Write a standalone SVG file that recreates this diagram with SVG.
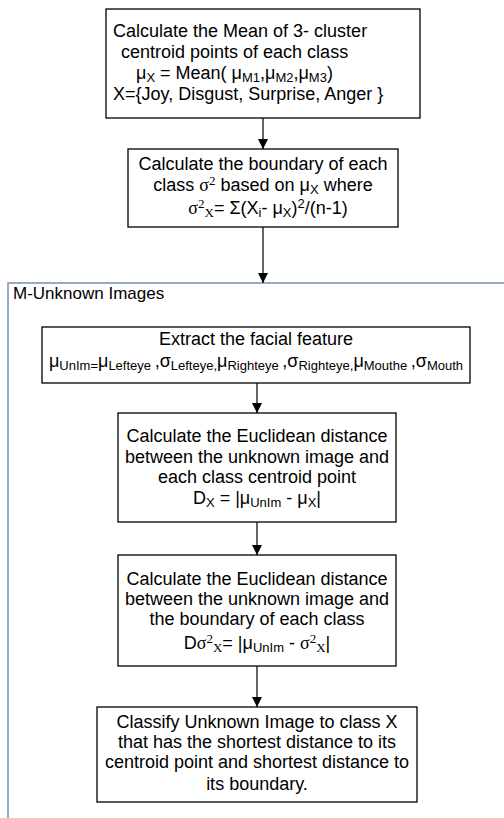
<svg xmlns="http://www.w3.org/2000/svg" width="504" height="818" viewBox="0 0 504 818">
  <defs>
    <marker id="arrow" markerWidth="10" markerHeight="11" refX="10" refY="5" orient="auto" markerUnits="userSpaceOnUse">
      <path d="M0,0 L10,5 L0,10 z" fill="#000"/>
    </marker>
  </defs>
  <style>
    text { font-family: "Liberation Sans", Arial, sans-serif; font-size: 18px; fill: #000; }
    .mid { text-anchor: middle; }
    .sub { font-size: 13px; }
    .sym { font-family: "Liberation Serif", "Times New Roman", serif; }
    .box { fill: #fff; stroke: #000; stroke-width: 1.3; }
    .frame { fill: none; stroke: #7f97b6; stroke-width: 1.6; }
    .link { stroke: #000; stroke-width: 1.2; fill: none; marker-end: url(#arrow); }
  </style>

  <rect width="504" height="818" fill="#fff"/>

  <!-- container for the per-image steps -->
  <g id="unknown-images">
    <rect class="frame" x="8" y="283" width="520" height="560"/>
    <text x="13" y="299" style="font-size:17px">M-Unknown Images</text>
  </g>

  <g id="connectors">
    <line class="link" x1="263" y1="118" x2="263" y2="149"/>
    <line class="link" x1="263" y1="227" x2="263" y2="283"/>
    <line class="link" x1="257" y1="383" x2="257" y2="413"/>
    <line class="link" x1="257" y1="522" x2="257" y2="555"/>
    <line class="link" x1="257" y1="666" x2="257" y2="707"/>
  </g>

  <g id="mean-centroid">
    <rect class="box" x="106" y="9" width="314" height="109"/>
    <text x="113" y="37">Calculate the Mean of  3- cluster</text>
    <text x="121" y="58">centroid points of each class</text>
    <text x="136" y="79">μ<tspan class="sub" dy="3">X</tspan><tspan dy="-3"> = Mean( μ</tspan><tspan class="sub" dy="3">M1</tspan><tspan dy="-3">,μ</tspan><tspan class="sub" dy="3">M2</tspan><tspan dy="-3">,μ</tspan><tspan class="sub" dy="3">M3</tspan><tspan dy="-3">)</tspan></text>
    <text x="113" y="100">X={Joy, Disgust, Surprise,  Anger }</text>
  </g>

  <g id="class-boundary">
    <rect class="box" x="128" y="149" width="270" height="78"/>
    <text class="mid" x="263" y="170">Calculate the boundary of each</text>
    <text class="mid" x="263" y="191">class <tspan class="sym">σ</tspan><tspan class="sym sub" dy="-6">2</tspan><tspan dy="6"> based on μ</tspan><tspan class="sub" dy="3">X</tspan><tspan dy="-3"> where</tspan></text>
    <text class="mid" x="268" y="214"><tspan class="sym">σ</tspan><tspan class="sym sub" dy="-6">2</tspan><tspan class="sym sub" dy="9">X</tspan><tspan dy="-3">= Σ(X</tspan><tspan class="sub" dy="3">i</tspan><tspan dy="-3">- μ</tspan><tspan class="sub" dy="3">X</tspan><tspan dy="-3">)</tspan><tspan class="sub" dy="-6">2</tspan><tspan dy="6">/(n-1)</tspan></text>
  </g>

  <g id="extract-feature">
    <rect class="box" x="42" y="327" width="428" height="56"/>
    <text class="mid" x="256" y="345">Extract the facial feature</text>
    <text class="mid" x="256" y="367">μ<tspan class="sub" dy="3">UnIm=</tspan><tspan dy="-3">μ</tspan><tspan class="sub" dy="3">Lefteye </tspan><tspan dy="-3">,σ</tspan><tspan class="sub" dy="3">Lefteye,</tspan><tspan dy="-3">μ</tspan><tspan class="sub" dy="3">Righteye </tspan><tspan dy="-3">,σ</tspan><tspan class="sub" dy="3">Righteye,</tspan><tspan dy="-3">μ</tspan><tspan class="sub" dy="3">Mouthe </tspan><tspan dy="-3">,σ</tspan><tspan class="sub" dy="3">Mouth</tspan></text>
  </g>

  <g id="centroid-distance">
    <rect class="box" x="118" y="413" width="278" height="109"/>
    <text class="mid" x="257" y="442">Calculate the Euclidean distance</text>
    <text class="mid" x="257" y="463">between the unknown image and</text>
    <text class="mid" x="257" y="483">each class centroid point</text>
    <text class="mid" x="257" y="504">D<tspan class="sub" dy="3">X</tspan><tspan dy="-3"> = |μ</tspan><tspan class="sub" dy="3">UnIm</tspan><tspan dy="-3"> - μ</tspan><tspan class="sub" dy="3">X</tspan><tspan dy="-3">|</tspan></text>
  </g>

  <g id="boundary-distance">
    <rect class="box" x="118" y="555" width="278" height="111"/>
    <text class="mid" x="257" y="585">Calculate the Euclidean distance</text>
    <text class="mid" x="257" y="605">between the unknown image and</text>
    <text class="mid" x="257" y="625">the boundary of each class</text>
    <text class="mid" x="257" y="649">D<tspan class="sym">σ</tspan><tspan class="sym sub" dy="-6">2</tspan><tspan class="sym sub" dy="9">X</tspan><tspan dy="-3">= |μ</tspan><tspan class="sub" dy="3">UnIm</tspan><tspan dy="-3"> - </tspan><tspan class="sym">σ</tspan><tspan class="sym sub" dy="-6">2</tspan><tspan class="sym sub" dy="9">X</tspan><tspan dy="-3">|</tspan></text>
  </g>

  <g id="classify">
    <rect class="box" x="97" y="707" width="320" height="95"/>
    <text class="mid" x="257" y="728">Classify Unknown Image to class X</text>
    <text class="mid" x="257" y="748">that has the shortest distance to its</text>
    <text class="mid" x="257" y="768">centroid point and shortest distance to</text>
    <text class="mid" x="257" y="790">its boundary.</text>
  </g>
</svg>
